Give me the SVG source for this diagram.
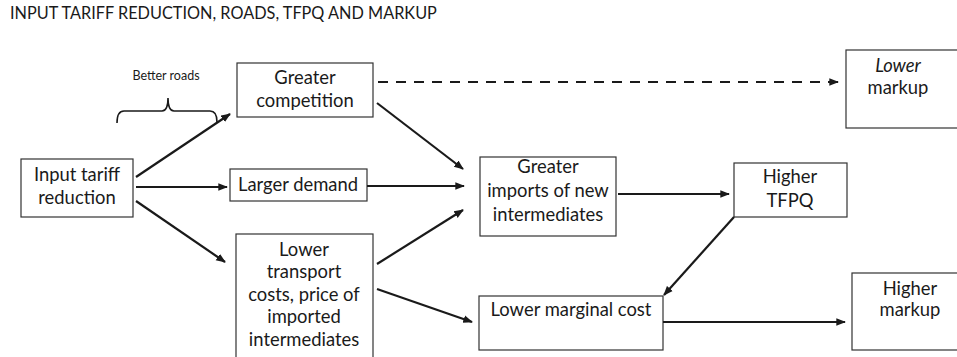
<svg xmlns="http://www.w3.org/2000/svg" width="957" height="357" viewBox="0 0 957 357">
  <style>
    text { font-family: Lato, "Open Sans", "Liberation Sans", sans-serif; fill: #1a1a1a; }
    .t { font-size: 18.4px; text-anchor: middle; }
    .title { font-size: 16.3px; }
    .small { font-size: 12.5px; text-anchor: middle; }
    .box { fill: #ffffff; stroke: #333333; stroke-width: 1.2; }
    .arr { stroke: #1a1a1a; stroke-width: 2.2; fill: none; marker-end: url(#ah); }
    .dash { stroke-dasharray: 10 8; }
    .brace { stroke: #1a1a1a; stroke-width: 1.6; fill: none; }
  </style>
  <defs>
    <marker id="ah" viewBox="0 0 10 10" refX="9" refY="5" markerWidth="4.4" markerHeight="4.4" orient="auto" markerUnits="strokeWidth">
      <path d="M0,1 L10,5 L0,9 z" fill="#1a1a1a"/>
    </marker>
  </defs>
  <rect width="957" height="357" fill="#ffffff"/>

  <text class="title" x="10" y="19">INPUT TARIFF REDUCTION, ROADS, TFPQ AND MARKUP</text>

  <!-- Better roads brace -->
  <g id="better-roads">
    <text class="small" x="166" y="80">Better roads</text>
    <path class="brace" d="M117,123 Q117,111 124,111 L162,111 Q168,111 168,98 Q168,111 174,111 L210,111 Q217,111 217,122"/>
  </g>

  <g id="input-tariff">
    <rect class="box" x="21" y="159" width="112" height="58"/>
    <text class="t" x="77" y="181">Input tariff</text>
    <text class="t" x="77" y="204">reduction</text>
  </g>

  <g id="greater-competition">
    <rect class="box" x="237" y="63" width="136" height="54"/>
    <text class="t" x="305" y="84">Greater</text>
    <text class="t" x="305" y="107">competition</text>
  </g>

  <g id="larger-demand">
    <rect class="box" x="230" y="169" width="137" height="32"/>
    <text class="t" x="298" y="191">Larger demand</text>
  </g>

  <g id="lower-transport">
    <rect class="box" x="236" y="234" width="137" height="130"/>
    <text class="t" x="304" y="256">Lower</text>
    <text class="t" x="304" y="278">transport</text>
    <text class="t" x="304" y="301">costs, price of</text>
    <text class="t" x="304" y="323">imported</text>
    <text class="t" x="304" y="346">intermediates</text>
  </g>

  <g id="greater-imports">
    <rect class="box" x="480" y="157" width="136" height="79"/>
    <text class="t" x="548" y="173">Greater</text>
    <text class="t" x="548" y="197">imports of new</text>
    <text class="t" x="548" y="221">intermediates</text>
  </g>

  <g id="higher-tfpq">
    <rect class="box" x="734" y="163" width="113" height="54"/>
    <text class="t" x="790" y="183">Higher</text>
    <text class="t" x="790" y="207">TFPQ</text>
  </g>

  <g id="lower-markup">
    <rect class="box" x="846" y="50" width="130" height="78"/>
    <text class="t" x="898" y="72" font-style="italic">Lower</text>
    <text class="t" x="898" y="94">markup</text>
  </g>

  <g id="lower-marginal-cost">
    <rect class="box" x="479" y="296" width="184" height="54"/>
    <text class="t" x="571" y="316">Lower marginal cost</text>
  </g>

  <g id="higher-markup">
    <rect class="box" x="852" y="273" width="130" height="77"/>
    <text class="t" x="910" y="295">Higher</text>
    <text class="t" x="910" y="316">markup</text>
  </g>

  <g id="connectors">
    <line class="arr" x1="136" y1="177" x2="230" y2="114"/>
    <line class="arr" x1="136" y1="187" x2="227" y2="187"/>
    <line class="arr" x1="136" y1="201" x2="225" y2="262"/>
    <line class="arr" x1="377" y1="103" x2="463" y2="169"/>
    <line class="arr" x1="367" y1="186" x2="464" y2="186"/>
    <line class="arr" x1="377" y1="264" x2="463" y2="210"/>
    <line class="arr" x1="377" y1="289" x2="472" y2="322"/>
    <line class="arr" x1="618" y1="194" x2="729" y2="194"/>
    <line class="arr" x1="734" y1="217" x2="664" y2="295"/>
    <line class="arr" x1="663" y1="322" x2="845" y2="322"/>
    <line class="arr dash" x1="378" y1="82" x2="838" y2="82"/>
  </g>
</svg>
